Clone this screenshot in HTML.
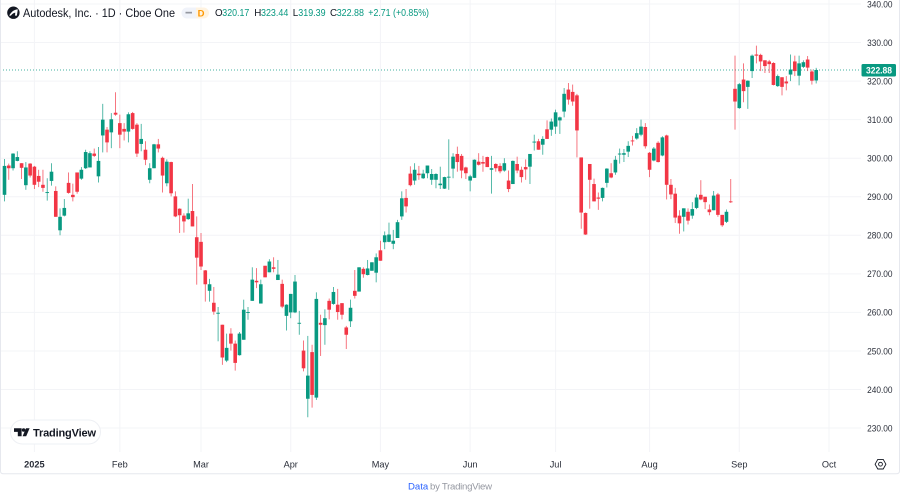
<!DOCTYPE html>
<html lang="en">
<head>
<meta charset="utf-8">
<title>Autodesk, Inc. · 1D · Cboe One</title>
<style>
  html, body { margin: 0; padding: 0; background: #fff; }
  body { width: 900px; height: 498px; overflow: hidden; font-family: "Liberation Sans", sans-serif; }
  svg { display: block; position: absolute; left: 0; top: 0; }
  text { font-family: "Liberation Sans", sans-serif; }
</style>
</head>
<body>
<svg id="chart" width="900" height="498" viewBox="0 0 900 498">
  <g id="grid"></g>
  <line x1="0" x2="861" y1="70" y2="70" stroke="#089981" stroke-width="1" stroke-dasharray="1 2" opacity="0.75"></line>
  <g id="candles"></g>
  <g id="price-axis"></g>
  <g id="time-axis"></g>

  <g>
    <rect x="861.5" y="64" width="34.5" height="12.5" rx="1.5" fill="#089981"></rect>
    <text x="879" y="73.5" text-anchor="middle" font-size="9.2" font-weight="bold" fill="#ffffff" textLength="26" lengthAdjust="spacingAndGlyphs">322.88</text>
  </g>

  <g>
    <g>
      <circle cx="13.4" cy="12.7" r="6.2" fill="#131722"></circle>
      <path d="M9.2 15.6 C11.5 11.6 14.2 9.6 17.8 9.4 L16.9 15.6 L15 15.6 L15.3 12.6 C13.4 13 12 13.9 10.9 15.6 Z" fill="#ffffff"></path>
    </g>
    <text x="23" y="17" font-size="12.2" fill="#131722" textLength="152" lengthAdjust="spacingAndGlyphs">Autodesk, Inc. · 1D · Cboe One</text>
    <g>
      <path d="M187 7.5 H196 V18.5 H187 A5.5 5.5 0 0 1 187 7.5 Z" fill="#f0f3fa"></path>
      <path d="M196 7.5 H203.5 A5.5 5.5 0 0 1 203.5 18.5 H196 Z" fill="#fff3e0"></path>
      <rect x="185.5" y="11.8" width="6.5" height="1.7" fill="#9598a1"></rect>
      <text x="201" y="16.4" text-anchor="middle" font-size="9.5" font-weight="bold" fill="#ff9800">D</text>
    </g>
    <g font-size="9.8">
      <text x="215" y="16.2" fill="#131722">O</text>
      <text x="222.3" y="16.2" fill="#089981" textLength="27" lengthAdjust="spacingAndGlyphs">320.17</text>
      <text x="254.3" y="16.2" fill="#131722">H</text>
      <text x="261" y="16.2" fill="#089981" textLength="27.3" lengthAdjust="spacingAndGlyphs">323.44</text>
      <text x="292.7" y="16.2" fill="#131722">L</text>
      <text x="298.3" y="16.2" fill="#089981" textLength="27.3" lengthAdjust="spacingAndGlyphs">319.39</text>
      <text x="330" y="16.2" fill="#131722">C</text>
      <text x="336.7" y="16.2" fill="#089981" textLength="27.3" lengthAdjust="spacingAndGlyphs">322.88</text>
      <text x="368.3" y="16.2" fill="#089981" textLength="60.7" lengthAdjust="spacingAndGlyphs">+2.71 (+0.85%)</text>
    </g>
  </g>

  <g>
    <rect x="10.5" y="420" width="90" height="24" rx="12" fill="#ffffff" stroke="#eef0f4" stroke-width="1"></rect>
    <path d="M14 428.2 H21.6 V436.2 H17.8 V431.9 H14 Z" fill="#131722"></path>
    <circle cx="23.6" cy="430" r="1.8" fill="#131722"></circle>
    <path d="M26 428.2 H29.6 L26.2 436.2 H22.6 Z" fill="#131722"></path>
    <text x="33" y="436.4" font-size="11" font-weight="bold" fill="#131722" textLength="63" lengthAdjust="spacing">TradingView</text>
  </g>

  <g fill="none" stroke="#131722" stroke-width="0.9">
    <path d="M877.8 459.4 H883.2 L885.9 464.2 L883.2 469 H877.8 L875.1 464.2 Z"></path>
    <circle cx="880.5" cy="464.2" r="1.9"></circle>
  </g>

  <path d="M0.5 0 V471 Q0.5 473.8 3.5 473.8 H896 Q899.5 473.8 899.5 471 V0" fill="none" stroke="#e6e8ee" stroke-width="1"></path>

  <text x="408" y="489.6" font-size="9.6" fill="#2962ff">Data</text>
  <text x="430" y="489.6" font-size="9.6" fill="#9598a1" textLength="62" lengthAdjust="spacing">by TradingView</text>
</svg>

<script>
var opens = [
  290.5,298.1,297.4,299.3,298.7,293,298.6,297.8,295.4,293.1,
  291,294.1,291.5,281.3,285.1,293.6,290.5,296.3,294.7,297.4,
  297.6,301.2,295.3,305.9,307.4,306.7,311.8,309.1,307.6,306.9,
  311.7,308.7,303.7,302.2,294.4,297.4,303.6,300.1,293.5,299,
  290.1,286.9,285.1,284.2,286.3,279.5,278.3,270.9,265.6,262.5,
  259.8,256.8,247.5,254.5,251.9,248.9,252.9,260,263,268.2,
  262.3,272.1,270.4,271.7,268.4,267.4,259.1,260,260,257.1,
  250.1,237.6,249.7,237.9,257.3,256.7,263,262.2,262,262.4,
  256.1,257.7,265.6,265.4,271.3,269.7,270.8,270.3,276.1,278.2,
  278.3,277.8,279.3,284.9,289.7,296,294.2,296,294.8,296.1,
  294.4,294.4,293,292.1,295,297.3,301.1,300.6,297.6,294.2,
  294.9,299.1,299,300.3,297,298.5,298,296.8,294.2,293.3,
  298.5,297,297.7,297.8,304.1,304.4,303.5,307.5,307.4,308.2,
  309.8,312.1,317.8,317.2,316.3,300.2,285.8,298.5,293.3,289.8,
  289.7,293.6,296.1,296.3,301,300.9,301.7,304.6,305.1,306.1,
  308.1,301.4,299.4,304,300.7,305.9,293.1,290.8,285.1,284.8,
  286.1,285.1,287.1,290.5,290,286.7,286.5,290.6,285.3,283.5,
  288.8,318,313,320.4,318.5,322.6,326.9,326.8,325.4,325.1,
  324.7,318.7,321,319.9,321.7,325.1,321.4,323.7,325.6,322.5,320.17
];
var highs = [
  299.8,298.6,301.3,301.8,298.7,299,298.7,298,297,297,
  294.8,298.7,292.7,287,289.4,296.3,293.4,296.3,297.7,302.2,
  301.8,302.5,302.9,314.1,308.1,311.7,317.1,311.3,309.1,311.9,
  312,309.1,308.9,304.4,298.7,303.7,305,300.4,299.7,299.1,
  291.4,287,285.7,289.5,293.3,284.9,280.6,271,268.7,266.6,
  261.4,256.8,254.5,255.9,252.7,254.9,263.3,261.4,271.7,271.5,
  268.5,272.1,273.8,274.3,273.6,268.5,262.1,264.8,269.7,260.4,
  252.7,253.9,251.6,265.2,259.4,260.8,263.6,266.6,266.1,262.4,
  256.5,263.3,271,271.7,271.7,273.6,273,275.3,278.6,281,
  283.3,281.4,284,291.4,292,297.9,298.7,298,297,298.1,
  297.2,296.1,297.8,295.2,304.9,301.3,303,301.1,297.8,295.7,
  299.7,301.3,300.6,300.4,300.6,298.7,298.7,300,296.8,299.4,
  300.4,297.8,299.7,301.1,306.1,305,305.7,309.8,310.3,312.6,
  310.8,318.2,319.5,319.1,316.7,300.2,285.9,298.5,294.7,291.1,
  292.4,297.4,298.7,300.6,302.5,302.4,304.4,305.8,307.8,310,
  309.1,301.6,302.9,304.4,305.7,306.1,294.6,292.3,286.5,287,
  287,288.6,290.6,294.3,290,288,291.5,291,285.3,286.7,
  294.6,326.6,319.5,324.6,320.2,326.9,329.2,327.1,325.4,325.5,
  324.9,321.7,321,321.3,326.9,326.6,326.6,325.4,326.5,323,323.44
];
var lows = [
  288.8,294.4,296.8,299.2,294.6,291.8,295,292,292.5,291.3,
  289,292.9,284.8,280,284.9,290.8,288.8,290.8,294.4,297.2,
  297.6,300.3,293.7,301.5,301.5,302.6,311,302.6,304.6,304.1,
  307.4,300.3,301.8,298.2,293.5,297.4,301.5,291.1,292.7,290.1,
  284.7,280.6,280.7,284,282.3,267.2,271,262.8,262.8,259.4,
  252.5,246.4,247.1,250.1,244.9,248.8,252.9,258.1,263,266.3,
  262.3,269.1,270.4,270.4,268.4,261.1,255.3,258.5,259.8,254.2,
  244.7,232.8,235.3,237.3,248.7,251.6,258.2,262,258.1,258.2,
  250.5,256.2,263.6,265.4,269,269.6,270.8,267.8,273.4,276.4,
  278.2,276.4,279.3,284,285.9,292.7,293.1,294.4,294.6,294.8,
  293.1,292.2,292,292,291.8,294.8,296.5,294.8,294.6,291.4,
  294.9,298.1,296.5,297.7,290.8,296.5,296.1,296.5,291.2,293.3,
  296.1,293.7,294.4,293.3,302,302.2,300.9,305,305.8,306.3,
  306.3,310.6,313.9,313.6,300.2,281.7,280.1,286.9,288.8,286.6,
  288.8,292.4,294.8,295.7,298.6,299,300.3,303.3,304.8,305.7,
  302.5,295.1,299.2,298.9,300.5,289.3,289.4,283.2,280.4,281,
  282.8,284.3,286.8,289.1,286.8,285.2,286.5,284.8,282.2,283.2,
  288.4,307.4,312.8,314.5,312.8,320.8,324.6,322.6,322.1,322.1,
  318.9,318.5,316.3,317.6,320,321.3,318.9,323.4,322.6,319.1,319.39
];
var closes = [
  298,297.4,301.2,300.3,297.5,297.6,295.5,293.1,293.9,292.3,
  291.2,296.5,284.8,284.8,287.1,291,289.9,291.3,297,301.6,
  301.3,300.6,299.3,310,304.1,310.1,311.3,306.1,306.9,311.4,
  307.6,301.2,305,299.6,297.4,303.6,302.5,295.5,299.1,290.9,
  284.9,285.2,283.6,285.7,282.3,274.2,271.9,267.3,267.3,260.2,
  259.9,248.3,250.8,251.9,246.9,254.5,260.7,260.1,268.5,267.8,
  267.3,269.1,273.2,271.3,269.8,261.5,262,264.8,268,257.3,
  245.5,243.6,238.6,263.5,256.8,258.5,260.7,265.3,260.1,259.4,
  254.2,261.2,264.3,271.7,269.9,271.4,273,274.3,273.4,280,
  280.2,278.6,283.4,289.6,287.5,293,297,295.6,296,298.1,
  295.9,295.9,293.4,295.1,295.2,300.4,299,296.8,296.1,295.3,
  299.6,298.3,298.6,297.7,297.4,297.4,296.6,298.7,292,299.3,
  296.8,295.1,297.1,301.1,304.3,302.2,305,305,309.5,311.9,
  310.6,316.7,315.2,314.7,307.2,285.9,280.2,294.4,288.8,289.5,
  292.3,297.3,295,299.6,301.2,301.3,303.2,304.4,306.5,308.2,
  303.1,297,302.5,299,305.4,293.1,290.6,284.6,283.1,287,
  283.8,286.8,289.8,289.3,288.6,286,290.3,285.3,282.6,286.1,
  288.6,314.7,319.2,317.4,320.1,326.6,326.6,325.1,323.9,324.4,
  319,321.3,318.5,319.4,323,322.6,324.6,324.9,323.5,320.1,322.88
];
var priceTicks = ["340.00","330.00","320.00","310.00","300.00","290.00","280.00","270.00","260.00","250.00","240.00","230.00"];
var timeLabels = ["2025","Feb","Mar","Apr","May","Jun","Jul","Aug","Sep","Oct"];
var timeTickBars = [7,27,46,67,88,109,129,151,172,193];

var NS = "http://www.w3.org/2000/svg";
function xScale(i) { return 4.5 + 4.272 * i; }
function yScale(p) { return 4 + (340 - p) * 3.855; }
function make(tag, parent, attrs) {
  var el = document.createElementNS(NS, tag);
  for (var k in attrs) { el.setAttribute(k, attrs[k]); }
  parent.appendChild(el);
  return el;
}

var gridGroup = document.getElementById("grid");
var priceGroup = document.getElementById("price-axis");
var timeGroup = document.getElementById("time-axis");
var candleGroup = document.getElementById("candles");

priceTicks.forEach(function (label) {
  var y = yScale(parseFloat(label));
  var gl = make("line", gridGroup, { x1: 0, x2: 861, y1: y, y2: y, stroke: "#f3f4f7", "stroke-width": 1 });
  
  
  var t = make("text", priceGroup, { x: 892.5, y: y + 3.3, "text-anchor": "end", "font-size": 9.4, fill: "#2a2e39", textLength: 25.4, lengthAdjust: "spacingAndGlyphs" });
  t.textContent = label;
  
  
});

timeLabels.forEach(function (label, n) {
  var x = xScale(timeTickBars[n]);
  var gl = make("line", gridGroup, { x1: x, x2: x, y1: 0, y2: 452, stroke: "#f3f4f7", "stroke-width": 1 });
  
  
  var t = make("text", timeGroup, { x: x, y: 467.4, "text-anchor": "middle", "font-size": 9.2, fill: "#2a2e39" });
  if (label === "2025") { t.setAttribute("font-weight", "bold"); }
  t.textContent = label;
  
  
});

closes.forEach(function (close, i) {
  var open = opens[i];
  var color = close >= open ? "#089981" : "#f23645";
  var x = xScale(i);
  var top = yScale(Math.max(open, close));
  var bottom = yScale(Math.min(open, close));
  var g = make("g", candleGroup, {});
  
  
  make("line", g, { x1: x, x2: x, y1: yScale(highs[i]), y2: yScale(lows[i]), stroke: color, "stroke-width": 0.85, opacity: 0.8 });
  make("rect", g, { x: x - 1.8, y: top, width: 3.6, height: Math.max(bottom - top, 0.9), fill: color });
});
</script>
</body>
</html>
